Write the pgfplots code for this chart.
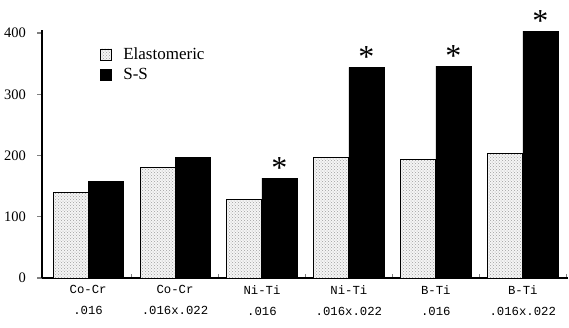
\documentclass[border=0pt]{standalone}
\usepackage{fontspec}
\setmainfont{Liberation Serif}
\newfontfamily\monofont{Liberation Mono}
\usepackage{pgfplots}
\usetikzlibrary{patterns}
\pgfplotsset{compat=1.18}
\begin{document}
\begin{tikzpicture}
\begin{axis}[
  scale only axis, width=526pt, height=248pt,
  xmin=-0.53, xmax=5.52, ymin=0, ymax=405,
  axis x line=bottom, axis y line=left,
  axis line style={-, line width=1.3pt},
  ybar=0pt, bar width=35pt,
  xtick={0.5,1.5,2.5,3.5,4.5,5.5},
  xticklabels={},
  xtick align=inside,
  x tick style={line width=0.8pt},
  extra x ticks={0,1,2,3,4,5},
  extra x tick labels={{Co-Cr\\.016},{Co-Cr\\.016x.022},{Ni-Ti\\.016},{Ni-Ti\\.016x.022},{B-Ti\\.016},{B-Ti\\.016x.022}},
  extra x tick style={major tick length=0pt, xticklabel style={font=\monofont\fontsize{12.3}{21}\selectfont, align=center, yshift=-4pt}},
  ytick={0,100,200,300,400},
  ytick align=outside,
  yticklabel style={font=\fontsize{14.5}{15}\selectfont, xshift=-8pt},
  /pgf/number format/assume math mode=true,
  y tick style={line width=1.3pt},
  major tick length=4.5pt,
  legend style={draw=none, fill=none, at={(0.105,0.945)}, anchor=north west, font=\fontsize{17}{18}\selectfont, row sep=3pt, column sep=9pt},
  legend cell align=left,
  legend image code/.code={\draw[#1, line width=0.9pt] (0pt,-5.5pt) rectangle (11pt,5.5pt);},
]
\addplot[fill=gray!8, draw=black, line width=1pt, postaction={pattern=crosshatch dots, pattern color=gray!75}] coordinates {(0,140) (1,181) (2,129) (3,197) (4,194) (5,204)};
\addplot[fill=black, draw=black, point meta=explicit symbolic, nodes near coords, nodes near coords style={font=\fontsize{32}{32}\selectfont, anchor=south, yshift=-4pt}] coordinates {(0,158) [{}] (1,197) [{}] (2,163) [*] (3,344) [*] (4,346) [*] (5,403) [*]};
\legend{Elastomeric, S-S}
\end{axis}
\pgfresetboundingbox
\path ([xshift=-42pt,yshift=-49pt]current axis.south west) rectangle ([xshift=1pt,yshift=30pt]current axis.north east);
\end{tikzpicture}
\end{document}
